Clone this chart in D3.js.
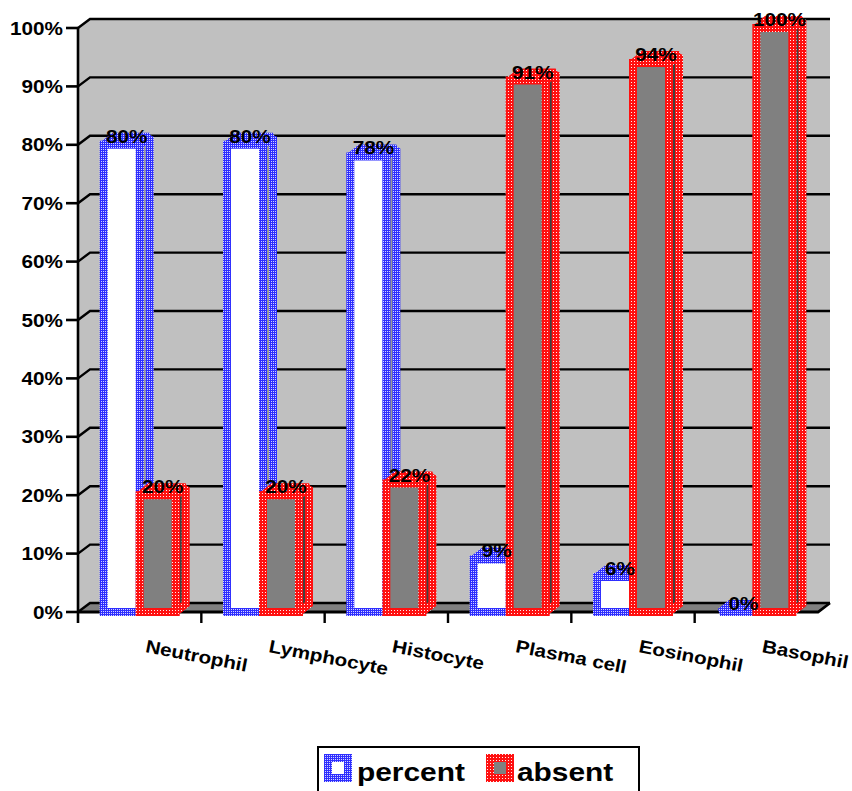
<!DOCTYPE html>
<html>
<head>
<meta charset="utf-8">
<script src="https://cdn.jsdelivr.net/npm/d3@7"></script>
<style>
  html, body { margin: 0; padding: 0; background: #fff; }
  svg { display: block; }
  text { font-family: "Liberation Sans", Arial, sans-serif; font-weight: bold; fill: #000; }
</style>
</head>
<body>
<svg id="chart" width="852" height="791"></svg>
<script>
// Cell types on the x axis
const categories = ["Neutrophil", "Lymphocyte", "Histocyte", "Plasma cell", "Eosinophil", "Basophil"];
// Series values (%)
const percentValues = [80, 80, 78, 9, 6, 0];
const absentValues  = [20, 20, 22, 91, 94, 100];
const seriesNames = ["percent", "absent"];
// Y axis ticks
const yTicks = [0, 10, 20, 30, 40, 50, 60, 70, 80, 90, 100];

(function () {
const svg = d3.select("#chart");
const defs = svg.append("defs");

// Dotted pattern fills for the bar outlines
const pBlue = defs.append("pattern").attr("id", "patBlue")
  .attr("patternUnits", "userSpaceOnUse").attr("width", 2).attr("height", 2);
pBlue.append("rect").attr("width", 2).attr("height", 2).attr("fill", "#2e2eff");
pBlue.append("rect").attr("x", 1).attr("y", 1).attr("width", 1).attr("height", 1).attr("fill", "#d4d4ff");

const pRed = defs.append("pattern").attr("id", "patRed")
  .attr("patternUnits", "userSpaceOnUse").attr("width", 3).attr("height", 3);
pRed.append("rect").attr("width", 3).attr("height", 3).attr("fill", "#ff1010");
pRed.append("rect").attr("x", 1).attr("y", 1).attr("width", 1).attr("height", 1).attr("fill", "#fff0f0");

const style = {
  percent: { stroke: "url(#patBlue)", front: "#ffffff", side: "#9a9a9a", top: "#ffffff" },
  absent:  { stroke: "url(#patRed)",  front: "#808080", side: "#404040", top: "#a0a0a0" }
};

// Plot geometry
const plotLeft = 78, plotRight = 818, plotBottom = 612, plotTop = 28;
const wallDx = 12, wallDy = -9;   // depth of the walls
const barDx = 10, barDy = -8;     // depth of each column

const y = d3.scaleLinear().domain([0, 100]).range([plotBottom, plotTop]);
const x0 = d3.scaleBand().domain(categories).range([plotLeft, plotRight])
  .paddingInner(0.416).paddingOuter(0.208);
const x1 = d3.scaleBand().domain(seriesNames).range([0, x0.bandwidth()]);

const pts = arr => arr.map(p => p.join(",")).join(" ");

// Walls: side wall + back wall
const gWall = svg.append("g");
gWall.append("polygon")
  .attr("points", pts([
    [plotLeft, y(100)], [plotLeft + wallDx, y(100) + wallDy], [plotRight + wallDx, y(100) + wallDy],
    [plotRight + wallDx, plotBottom + wallDy], [plotLeft + wallDx, plotBottom + wallDy], [plotLeft, plotBottom]
  ]))
  .attr("fill", "#c0c0c0");
// Floor
gWall.append("polygon")
  .attr("points", pts([
    [plotLeft, plotBottom], [plotLeft + wallDx, plotBottom + wallDy],
    [plotRight + wallDx, plotBottom + wallDy], [plotRight, plotBottom]
  ]))
  .attr("fill", "#808080");

// Gridlines running along the side wall and back wall
gWall.selectAll("path.grid").data(yTicks).join("path")
  .attr("class", "grid")
  .attr("d", t => `M${plotLeft},${y(t)} L${plotLeft + wallDx},${y(t) + wallDy} L${plotRight + wallDx},${y(t) + wallDy}`)
  .attr("fill", "none").attr("stroke", "#000").attr("stroke-width", 2.4);

// Floor front edge and right edge
gWall.append("path")
  .attr("d", `M${plotLeft},${plotBottom} L${plotRight},${plotBottom} L${plotRight + wallDx},${plotBottom + wallDy}`)
  .attr("fill", "none").attr("stroke", "#000").attr("stroke-width", 2.8);

// Y axis line and ticks
gWall.append("line").attr("x1", plotLeft).attr("x2", plotLeft).attr("y1", y(100)).attr("y2", plotBottom + 11)
  .attr("stroke", "#000").attr("stroke-width", 2.6);
gWall.selectAll("line.ytick").data(yTicks).join("line")
  .attr("class", "ytick")
  .attr("x1", plotLeft - 12).attr("x2", plotLeft).attr("y1", d => y(d)).attr("y2", d => y(d))
  .attr("stroke", "#000").attr("stroke-width", 2.6);

// Category tick marks between bands
const catBounds = categories.slice(1).map(c => x0(c) - x0.step() * x0.paddingInner() / 2);
gWall.selectAll("line.xtick").data(catBounds).join("line")
  .attr("class", "xtick")
  .attr("x1", d => d).attr("x2", d => d).attr("y1", plotBottom).attr("y2", plotBottom + 11)
  .attr("stroke", "#000").attr("stroke-width", 2.4);

// Y tick labels (slightly widened bold face)
svg.append("g").selectAll("text").data(yTicks).join("text")
  .attr("transform", d => `translate(63,${y(d) + 6.5}) scale(1.15,1)`)
  .attr("text-anchor", "end")
  .attr("font-size", 18)
  .text(d => d + "%");

// Bars
const bars = [];
categories.forEach((c, i) => {
  bars.push({ cat: c, series: "percent", value: percentValues[i] });
  bars.push({ cat: c, series: "absent", value: absentValues[i] });
});

const gBars = svg.append("g");
bars.forEach(b => {
  const xl = x0(b.cat) + x1(b.series);
  const w = x1.bandwidth();
  const yt = y(b.value), yb = y(0);
  const st = style[b.series];
  const g = gBars.append("g")
    .attr("stroke", st.stroke).attr("stroke-width", 8)
    .attr("stroke-linejoin", "miter").attr("stroke-miterlimit", 2);
  // side face
  g.append("path")
    .attr("d", `M${xl + w},${yb} L${xl + w},${yt} L${xl + w + barDx},${yt + barDy} L${xl + w + barDx},${yb + barDy} Z`)
    .attr("fill", st.side);
  // top face
  g.append("path")
    .attr("d", `M${xl},${yt} L${xl + barDx},${yt + barDy} L${xl + w + barDx},${yt + barDy} L${xl + w},${yt} Z`)
    .attr("fill", st.top);
  // front face
  g.append("path")
    .attr("d", `M${xl},${yb} L${xl + w},${yb} L${xl + w},${yt} L${xl},${yt} Z`)
    .attr("fill", st.front);
});

// Value labels above each column
svg.append("g").selectAll("text").data(bars).join("text")
  .attr("transform", d => `translate(${x0(d.cat) + x1(d.series) + x1.bandwidth() / 2 + barDx / 2},${y(d.value) - 2}) scale(1.15,1)`)
  .attr("text-anchor", "middle")
  .attr("font-size", 18)
  .text(d => d.value + "%");

// Category labels, slanted
svg.append("g").selectAll("text").data(categories).join("text")
  .attr("transform", d => `translate(${x0(d) + x0.bandwidth() / 2 + 5},652) rotate(11) scale(1.15,1)`)
  .attr("text-anchor", "start")
  .attr("font-size", 18)
  .text(d => d);

// Legend
const gLeg = svg.append("g");
gLeg.append("rect").attr("x", 318).attr("y", 747).attr("width", 321).attr("height", 60)
  .attr("fill", "#fff").attr("stroke", "#000").attr("stroke-width", 2);
const legendItems = [
  { name: "percent", sx: 328, tx: 357 },
  { name: "absent",  sx: 490, tx: 517 }
];
legendItems.forEach(it => {
  const st = style[it.name];
  gLeg.append("rect").attr("x", it.sx).attr("y", 758).attr("width", 20).attr("height", 20)
    .attr("fill", st.front).attr("stroke", st.stroke).attr("stroke-width", 8);
  gLeg.append("text")
    .attr("transform", `translate(${it.tx},781) scale(1.15,1)`)
    .attr("font-size", 26)
    .text(it.name);
});
})();
</script>
</body>
</html>
